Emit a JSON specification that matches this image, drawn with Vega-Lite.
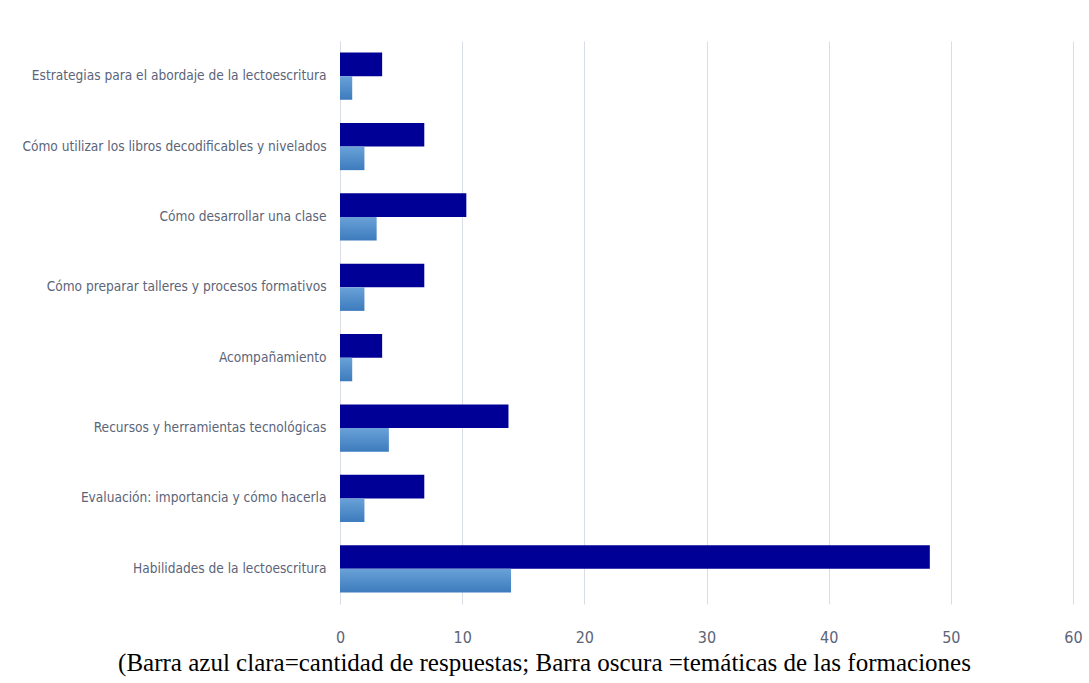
{
  "$schema": "https://vega.github.io/schema/vega-lite/v6.json",
  "width": 733,
  "height": 563,
  "autosize": {"type": "none"},
  "padding": {"left": 340, "top": 41, "right": 16, "bottom": 79},
  "background": "white",
  "data": {
    "values": [
      {"tema": "Estrategias para el abordaje de la lectoescritura", "serie": "Temáticas de las formaciones", "orden": 1, "valor": 3.45},
      {"tema": "Estrategias para el abordaje de la lectoescritura", "serie": "Cantidad de respuestas", "orden": 2, "valor": 1},
      {"tema": "Cómo utilizar los libros decodificables y nivelados ", "serie": "Temáticas de las formaciones", "orden": 1, "valor": 6.9},
      {"tema": "Cómo utilizar los libros decodificables y nivelados ", "serie": "Cantidad de respuestas", "orden": 2, "valor": 2},
      {"tema": "Cómo desarrollar una clase", "serie": "Temáticas de las formaciones", "orden": 1, "valor": 10.34},
      {"tema": "Cómo desarrollar una clase", "serie": "Cantidad de respuestas", "orden": 2, "valor": 3},
      {"tema": "Cómo preparar talleres y procesos formativos", "serie": "Temáticas de las formaciones", "orden": 1, "valor": 6.9},
      {"tema": "Cómo preparar talleres y procesos formativos", "serie": "Cantidad de respuestas", "orden": 2, "valor": 2},
      {"tema": "Acompañamiento", "serie": "Temáticas de las formaciones", "orden": 1, "valor": 3.45},
      {"tema": "Acompañamiento", "serie": "Cantidad de respuestas", "orden": 2, "valor": 1},
      {"tema": "Recursos y herramientas tecnológicas", "serie": "Temáticas de las formaciones", "orden": 1, "valor": 13.79},
      {"tema": "Recursos y herramientas tecnológicas", "serie": "Cantidad de respuestas", "orden": 2, "valor": 4},
      {"tema": "Evaluación: importancia y cómo hacerla", "serie": "Temáticas de las formaciones", "orden": 1, "valor": 6.9},
      {"tema": "Evaluación: importancia y cómo hacerla", "serie": "Cantidad de respuestas", "orden": 2, "valor": 2},
      {"tema": "Habilidades de la lectoescritura", "serie": "Temáticas de las formaciones", "orden": 1, "valor": 48.28},
      {"tema": "Habilidades de la lectoescritura", "serie": "Cantidad de respuestas", "orden": 2, "valor": 14}
    ]
  },
  "mark": {"type": "bar", "clip": false},
  "encoding": {
    "y": {
      "field": "tema",
      "type": "nominal",
      "sort": null,
      "scale": {"paddingInner": 0.33, "paddingOuter": 0.165},
      "axis": {
        "title": null,
        "ticks": false,
        "domain": true,
        "domainColor": "#d9dde6",
        "domainWidth": 1,
        "labelFont": "DejaVu Sans Condensed, sans-serif",
        "labelFontSize": 13.6,
        "labelColor": "#5b6478",
        "labelPadding": 14,
        "labelLimit": 400
      }
    },
    "yOffset": {"field": "orden", "type": "ordinal", "scale": {"paddingInner": 0, "paddingOuter": 0}},
    "x": {
      "field": "valor",
      "type": "quantitative",
      "scale": {"domain": [0, 60], "nice": false},
      "axis": {
        "values": [0, 10, 20, 30, 40, 50, 60],
        "grid": true,
        "gridColor": "#d9dde6",
        "gridWidth": 1,
        "ticks": false,
        "domain": false,
        "labelFlush": false,
        "labelFont": "DejaVu Sans Condensed, sans-serif",
        "labelFontSize": 16,
        "labelColor": "#5b6478",
        "labelPadding": 25,
        "title": "(Barra azul clara=cantidad de respuestas; Barra oscura =temáticas de las formaciones",
        "titleFont": "Liberation Serif, Times New Roman, serif",
        "titleFontSize": 25,
        "titleFontWeight": "normal",
        "titleColor": "#000000",
        "titleAlign": "center",
        "titleAnchor": "start",
        "titleX": 204,
        "titleY": 66,
        "titleBaseline": "alphabetic"
      }
    },
    "fill": {
      "condition": {"test": "datum.orden == 1", "value": "#000096"},
      "value": {
        "gradient": "linear",
        "x1": 0, "y1": 0, "x2": 0, "y2": 1,
        "stops": [
          {"offset": 0, "color": "#6aa2d8"},
          {"offset": 1, "color": "#3c7bbd"}
        ]
      }
    }
  },
  "config": {"view": {"stroke": null}}
}
